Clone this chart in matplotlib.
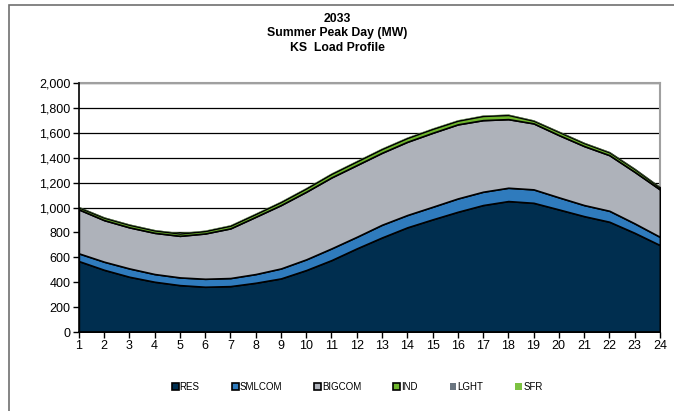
import numpy as np
import matplotlib.pyplot as plt
from matplotlib.patches import Rectangle

hours = list(range(1, 25))

# load by class, MW
res = [570, 500, 444, 404, 377, 364, 369, 396, 431, 498, 578, 672,
       760, 841, 905, 966, 1020, 1052, 1038, 985, 931, 886, 797, 699]
smlcom = [62, 65, 67, 62, 62, 64, 65, 70, 80, 86, 94, 93,
          102, 99, 101, 107, 107, 107, 108, 97, 89, 88, 76, 66]
bigcom = [353, 334, 330, 331, 334, 364, 399, 460, 509, 543, 570, 576,
          578, 588, 594, 595, 575, 551, 530, 500, 474, 447, 414, 381]
ind = [17, 20, 21, 20, 19, 20, 22, 23, 25, 27, 29, 30,
       31, 31, 32, 30, 34, 34, 22, 26, 24, 23, 23, 17]
lght = [2] * 24
sfr = [2] * 24

names = ['RES', 'SMLCOM', 'BIGCOM', 'IND', 'LGHT', 'SFR']
colors = ['#002e4f', '#2f7bbd', '#aeb2ba', '#6fb62d', '#6a7580', '#7dc242']
edges = ['black', 'black', 'black', 'black', 'none', 'none']

fig = plt.figure(figsize=(6.74, 4.11), dpi=100)
plt.rcParams['font.family'] = ['Liberation Sans', 'DejaVu Sans']
ax = fig.add_axes([0.117, 0.192, 0.862, 0.606])

layers = [res, smlcom, bigcom, ind, lght, sfr]
base = np.zeros(24)
for name, vals, c, e in zip(names, layers, colors, edges):
    top = base + np.array(vals)
    ax.fill_between(hours, base, top, facecolor=c, edgecolor=e,
                    linewidth=1.2 if e != 'none' else 0, label=name, zorder=3)
    base = top

ax.set_xlim(1, 24)
ax.set_ylim(0, 2000)
ax.set_xticks(hours)
ax.set_yticks(range(0, 2001, 200))
ax.set_yticklabels([f'{v:,}' for v in range(0, 2001, 200)])
ax.tick_params(labelsize=9, length=4, width=1, color='black', pad=2)
ax.grid(axis='y', color='black', linewidth=0.9, zorder=1)
ax.set_axisbelow(True)
for s in ['left', 'bottom']:
    ax.spines[s].set_color('black')
    ax.spines[s].set_linewidth(1.2)
    ax.spines[s].set_zorder(5)
for s in ['top', 'right']:
    ax.spines[s].set_color('#a0a0a0')
    ax.spines[s].set_linewidth(1.5)

fig.text(0.5, 0.968, '2033\nSummer Peak Day (MW)\nKS  Load Profile',
         ha='center', va='top', fontsize=8.8, fontweight='bold', linespacing=1.25)

leg = fig.legend(loc='center', bbox_to_anchor=(0.53, 0.058), ncol=6,
                 frameon=False, fontsize=7, handlelength=0.7, handleheight=0.7,
                 handletextpad=0.1, columnspacing=3.3)

fig.patches.append(Rectangle((9 / 674, -0.1), 1.2, 1.1 - 5 / 411,
                             transform=fig.transFigure, fill=False,
                             edgecolor='#707070', linewidth=1.2))

fig.savefig('out.png', dpi=100)
